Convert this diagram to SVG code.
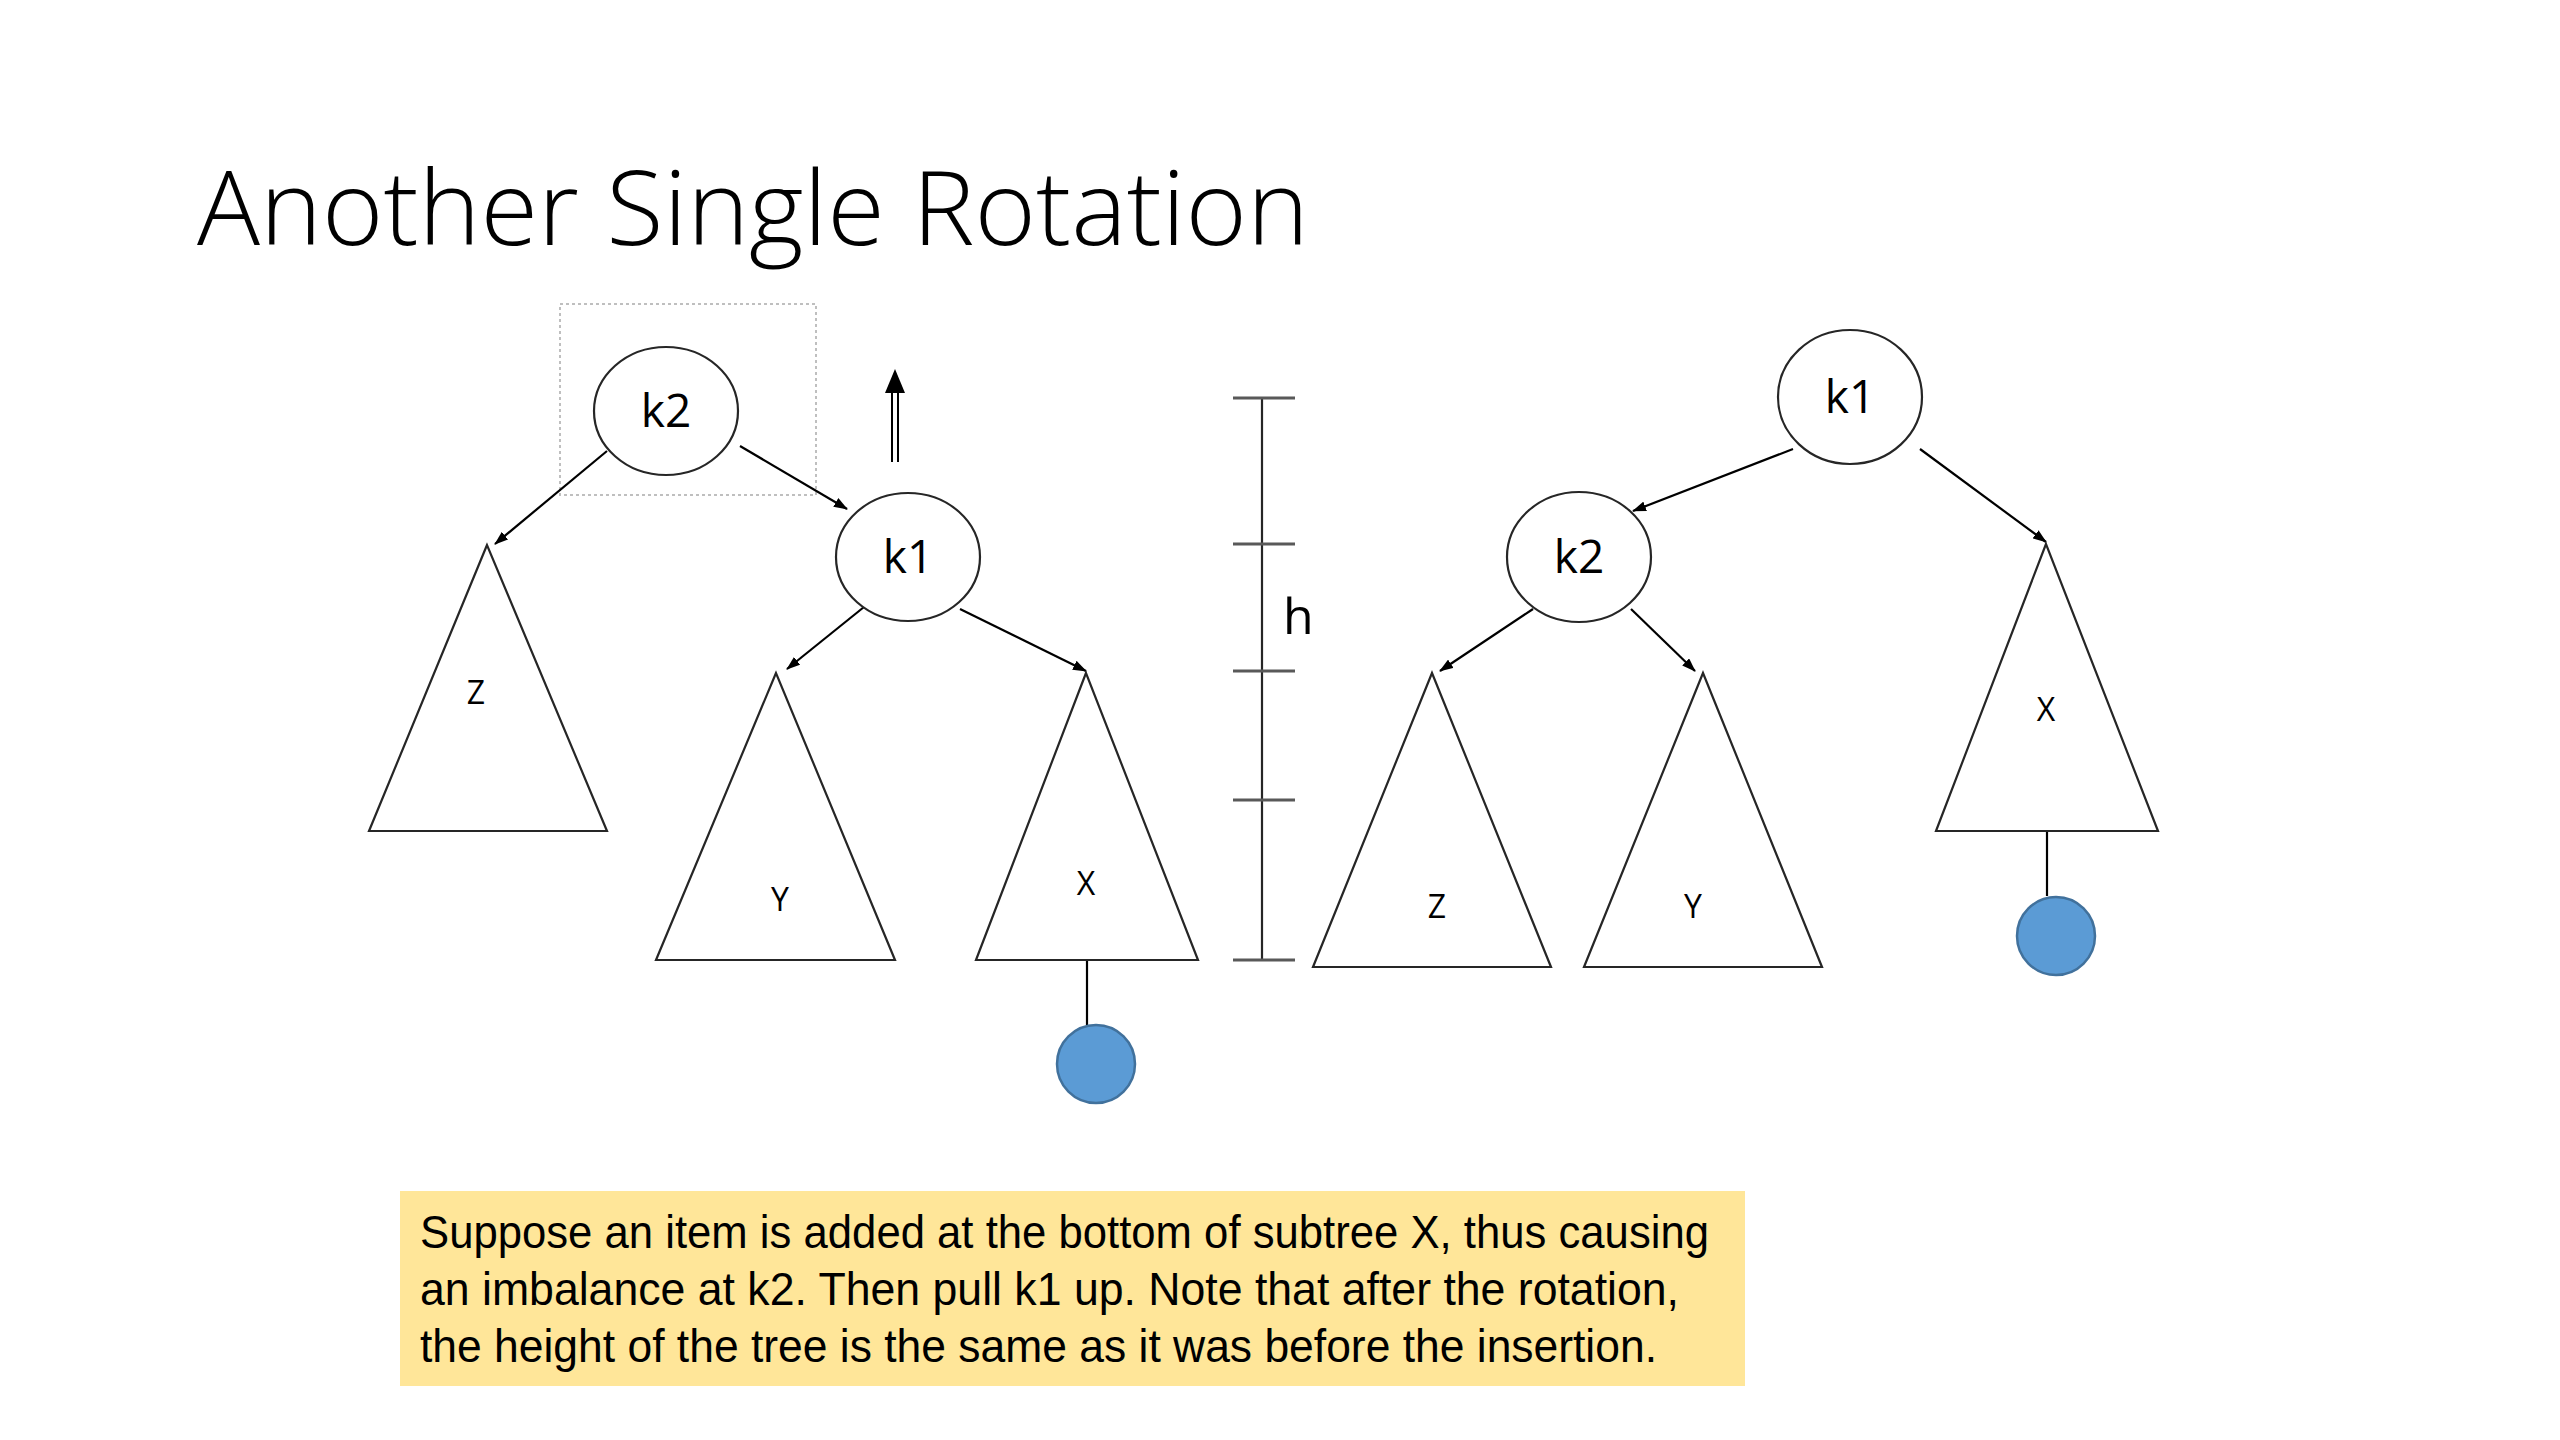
<svg xmlns="http://www.w3.org/2000/svg" width="2560" height="1440" viewBox="0 0 2560 1440">
<defs>
<marker id="ah" viewBox="0 0 14 10" refX="13" refY="5" markerWidth="14" markerHeight="10" markerUnits="userSpaceOnUse" orient="auto">
<path d="M0,0 L14,5 L0,10 Z" fill="#000"/>
</marker>
</defs>
<style>
.node{fill:#fff;stroke:#262626;stroke-width:2.2}
.tri{fill:#fff;stroke:#262626;stroke-width:2.2}
.edge{stroke:#000;stroke-width:2.2;fill:none}
.lbl{font-family:"Open Sans","Liberation Sans",sans-serif;font-size:46px;fill:#000;text-anchor:middle}
.sub{font-family:"Open Sans","Liberation Sans",sans-serif;font-size:32px;fill:#000;text-anchor:middle}
.leaf{fill:#5B9BD5;stroke:#41719C;stroke-width:2.5}
.tick{stroke:#595959;stroke-width:3}
.note{font-family:"Liberation Sans","Open Sans",sans-serif;font-size:47px;fill:#000}
</style>
<rect width="2560" height="1440" fill="#fff"/>
<text x="197" y="245" font-family="'Open Sans','Liberation Sans',sans-serif" font-weight="300" font-size="104" fill="#000" textLength="1112" lengthAdjust="spacingAndGlyphs">Another Single Rotation</text>

<g id="selection-box">
<rect x="560" y="304" width="256" height="191" fill="none" stroke="#BFBFBF" stroke-width="2" stroke-dasharray="3,3"/>
</g>

<g id="up-arrow">
<line x1="892" y1="462" x2="892" y2="390" stroke="#000" stroke-width="2"/>
<line x1="898" y1="462" x2="898" y2="390" stroke="#000" stroke-width="2"/>
<path d="M885,393 L895,369 L905,393 Z" fill="#000"/>
</g>

<g id="connectors">
<line class="edge" x1="607" y1="451" x2="495" y2="544" marker-end="url(#ah)"/>
<line class="edge" x1="740" y1="446" x2="847" y2="509" marker-end="url(#ah)"/>
<line class="edge" x1="864" y1="607" x2="787" y2="669" marker-end="url(#ah)"/>
<line class="edge" x1="960" y1="609" x2="1086" y2="671" marker-end="url(#ah)"/>
<line class="edge" x1="1087" y1="960" x2="1087" y2="1025"/>
<line class="edge" x1="1793" y1="449" x2="1633" y2="511" marker-end="url(#ah)"/>
<line class="edge" x1="1920" y1="449" x2="2046" y2="542" marker-end="url(#ah)"/>
<line class="edge" x1="1533" y1="609" x2="1440" y2="671" marker-end="url(#ah)"/>
<line class="edge" x1="1631" y1="609" x2="1695" y2="671" marker-end="url(#ah)"/>
<line class="edge" x1="2047" y1="831" x2="2047" y2="896"/>
</g>

<g id="left-k2">
<ellipse class="node" cx="666" cy="411" rx="72" ry="64"/>
<text class="lbl" x="666" y="427">k2</text>
</g>
<g id="left-k1">
<ellipse class="node" cx="908" cy="557" rx="72" ry="64"/>
<text class="lbl" x="908" y="573">k1</text>
</g>
<g id="left-Z">
<polygon class="tri" points="487,545 369,831 607,831"/>
<text class="sub" x="476" y="704">Z</text>
</g>
<g id="left-Y">
<polygon class="tri" points="776,673 656,960 895,960"/>
<text class="sub" x="780" y="911">Y</text>
</g>
<g id="left-X">
<polygon class="tri" points="1086,673 976,960 1198,960"/>
<text class="sub" x="1086" y="895">X</text>
</g>
<g id="left-new">
<circle class="leaf" cx="1096" cy="1064" r="39"/>
</g>

<g id="height-ruler">
<line x1="1262" y1="398" x2="1262" y2="960" stroke="#262626" stroke-width="2.2"/>
<line class="tick" x1="1233" y1="398" x2="1295" y2="398"/>
<line class="tick" x1="1233" y1="544" x2="1295" y2="544"/>
<line class="tick" x1="1233" y1="671" x2="1295" y2="671"/>
<line class="tick" x1="1233" y1="800" x2="1295" y2="800"/>
<line class="tick" x1="1233" y1="960" x2="1295" y2="960"/>
<text x="1283" y="634" font-family="'Open Sans','Liberation Sans',sans-serif" font-size="50" fill="#000">h</text>
</g>

<g id="right-k1">
<ellipse class="node" cx="1850" cy="397" rx="72" ry="67"/>
<text class="lbl" x="1850" y="413">k1</text>
</g>
<g id="right-k2">
<ellipse class="node" cx="1579" cy="557" rx="72" ry="65"/>
<text class="lbl" x="1579" y="573">k2</text>
</g>
<g id="right-X">
<polygon class="tri" points="2046,544 1936,831 2158,831"/>
<text class="sub" x="2046" y="721">X</text>
</g>
<g id="right-new">
<circle class="leaf" cx="2056" cy="936" r="39"/>
</g>
<g id="right-Z">
<polygon class="tri" points="1432,673 1313,967 1551,967"/>
<text class="sub" x="1437" y="918">Z</text>
</g>
<g id="right-Y">
<polygon class="tri" points="1703,673 1584,967 1822,967"/>
<text class="sub" x="1693" y="918">Y</text>
</g>

<g id="note">
<rect x="400" y="1191" width="1345" height="195" fill="#FFE699"/>
<text class="note" x="420" y="1248" textLength="1289" lengthAdjust="spacingAndGlyphs">Suppose an item is added at the bottom of subtree X, thus causing</text>
<text class="note" x="420" y="1305" textLength="1259" lengthAdjust="spacingAndGlyphs">an imbalance at k2. Then pull k1 up. Note that after the rotation,</text>
<text class="note" x="420" y="1362" textLength="1237" lengthAdjust="spacingAndGlyphs">the height of the tree is the same as it was before the insertion.</text>
</g>
</svg>
